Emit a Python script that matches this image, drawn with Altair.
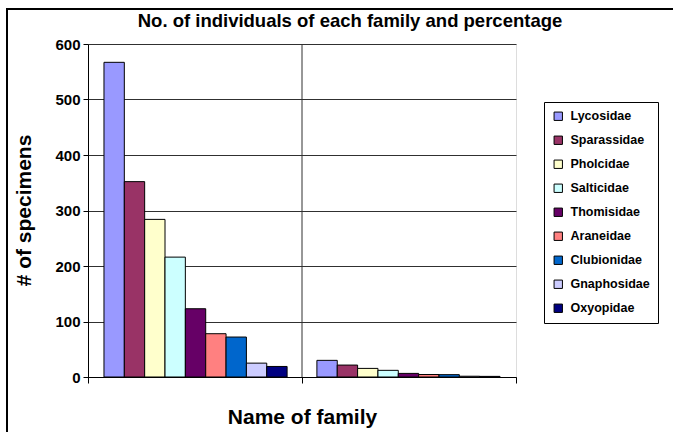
import altair as alt
import pandas as pd

families = ["Lycosidae", "Sparassidae", "Pholcidae", "Salticidae", "Thomisidae",
            "Araneidae", "Clubionidae", "Gnaphosidae", "Oxyopidae"]
counts = [567, 352, 284, 216, 123, 78, 72, 25, 19]
percents = [30, 21.5, 15.5, 12, 6.5, 4.5, 4.2, 1.4, 1.1]
groups = ["Number", "Percentage"]
colors = ["#9999FF", "#993366", "#FFFFCC", "#CCFFFF", "#660066",
          "#FF8080", "#0066CC", "#CCCCFF", "#000080"]
y_ticks = [0, 100, 200, 300, 400, 500, 600]

rows = []
for f, c in zip(families, counts):
    rows.append({"group": groups[0], "family": f, "value": c})
for f, p in zip(families, percents):
    rows.append({"group": groups[1], "family": f, "value": p})
df = pd.DataFrame(rows)

FONT = "Liberation Sans"

yaxis = alt.Axis(values=y_ticks, grid=True, gridColor="#303030", gridWidth=1,
                 domainColor="black", tickColor="black", tickSize=5,
                 labelFontSize=15, labelFontWeight="bold", labelColor="black",
                 labelFont=FONT, labelPadding=3,
                 title="# of specimens", titleFontSize=21, titleFontWeight="bold",
                 titleFont=FONT, titleColor="black", titleX=-58, titleY=166,
                 titleAngle=-90, titleAlign="center", titleBaseline="alphabetic")
yscale = alt.Scale(domain=[0, 600], nice=False)

bars = alt.Chart(df).mark_bar(stroke="black", strokeWidth=1).encode(
    x=alt.X("group:N", sort=groups, axis=None,
            scale=alt.Scale(paddingInner=0.14, paddingOuter=0.075)),
    xOffset=alt.XOffset("family:N", sort=families),
    y=alt.Y("value:Q", scale=yscale, axis=yaxis),
    color=alt.Color("family:N", sort=families,
                    scale=alt.Scale(domain=families, range=colors),
                    legend=alt.Legend(orient="none", legendX=456, legendY=58,
                                      title=None, strokeColor="black",
                                      fillColor="white", padding=8,
                                      symbolType="square", symbolSize=70,
                                      symbolStrokeColor="black",
                                      symbolStrokeWidth=1, labelFontSize=12.5,
                                      labelFontWeight="bold", labelFont=FONT,
                                      labelColor="black", rowPadding=11,
                                      labelOffset=6)),
)

div_df = pd.DataFrame({"b": [1], "y0": [0], "y1": [600]})
divider = alt.Chart(div_df).mark_rule(color="#303030", strokeWidth=1).encode(
    x=alt.X("b:Q", scale=alt.Scale(domain=[0, 2], nice=False),
            axis=alt.Axis(values=[0, 1, 2], labels=False, grid=False,
                          ticks=True, tickSize=6, tickColor="black",
                          domainColor="black",
                          title="Name of family", titleFontSize=21,
                          titleFontWeight="bold", titleFont=FONT,
                          titleColor="black", titleY=46,
                          titleBaseline="alphabetic")),
    y=alt.Y("y0:Q", scale=yscale, axis=yaxis),
    y2="y1:Q",
)

frame_df = pd.DataFrame({"a": [0]})
frame_left = alt.Chart(frame_df).mark_rule(color="black", strokeWidth=2).encode(
    x=alt.value(-81), y=alt.value(-35), y2=alt.value(400))
frame_top = alt.Chart(frame_df).mark_rule(color="black", strokeWidth=2).encode(
    x=alt.value(-82), x2=alt.value(600), y=alt.value(-35))

chart = alt.layer(bars, divider, frame_left, frame_top).resolve_scale(
    x="independent"
).properties(
    width=428, height=333,
    autosize=alt.AutoSizeParams(type="none"),
    padding={"left": 88, "top": 44, "right": 157, "bottom": 55},
    title=alt.TitleParams("No. of individuals of each family and percentage",
                          fontSize=18.5, fontWeight="bold", font=FONT,
                          color="black", anchor="middle", dx=48, dy=36,
                          offset=14),
).configure_view(
    fill="#C0C0C0", stroke="#8A8A8A"
).configure(background="white")

chart.save("out.html", embed_options={"renderer": "svg", "actions": False})
